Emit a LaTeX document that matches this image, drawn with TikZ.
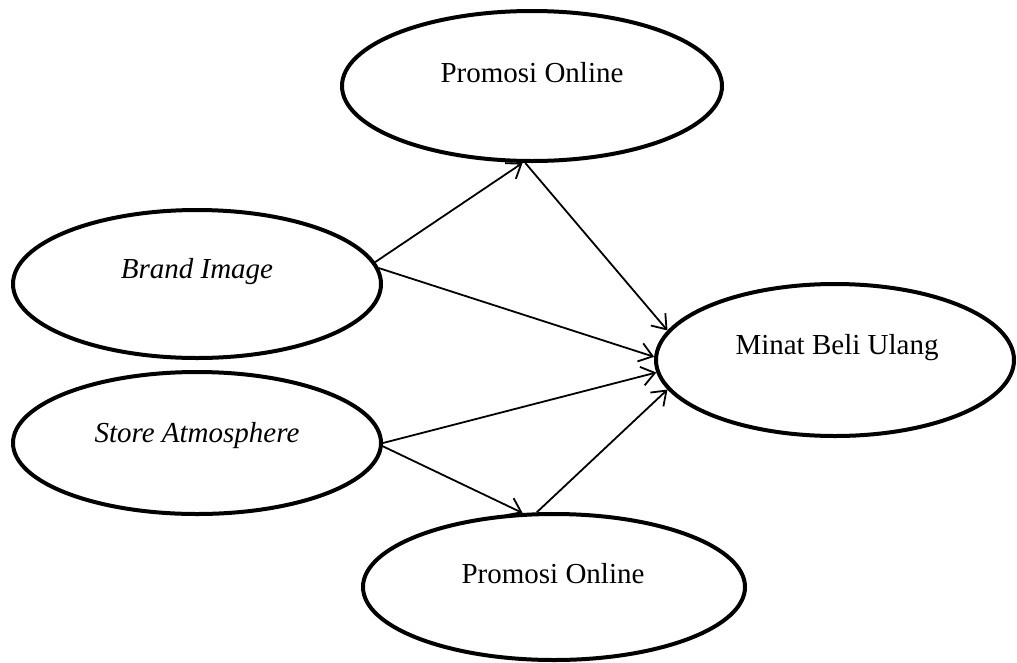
\documentclass[tikz,border=0pt]{standalone}
\usepackage{fontspec}
\setmainfont{Liberation Serif}
\usetikzlibrary{shapes.geometric,arrows.meta}
\tikzset{
  oval/.style={draw=black, line width=4pt, ellipse, inner sep=0pt},
  lbl/.style={anchor=base, inner sep=0pt, font=\fontsize{29}{34}\selectfont},
  conn/.style={line width=1.8pt, -{Straight Barb[length=13pt,width=19pt,line width=1.8pt]}}
}
\begin{document}
\begin{tikzpicture}[x=1pt,y=-1pt]
\useasboundingbox (0,0) rectangle (1017,662);
% ellipses
\node[oval, minimum width=380pt, minimum height=150pt] (po1) at (532,86) {};
\node[oval, minimum width=368pt, minimum height=148pt] (bi) at (197,284) {};
\node[oval, minimum width=368pt, minimum height=142pt] (sa) at (197,443) {};
\node[oval, minimum width=358pt, minimum height=152pt] (mb) at (835,360) {};
\node[oval, minimum width=382pt, minimum height=146pt] (po2) at (554,587) {};
% labels
\node[lbl] (po1t) at (532,82) {Promosi Online};
\node[lbl] (bit) at (197,278) {\itshape Brand Image};
\node[lbl] (sat) at (197,442) {\itshape Store Atmosphere};
\node[lbl] (mbt) at (837,354) {Minat Beli Ulang};
\node[lbl] (po2t) at (553,583) {Promosi Online};
% connectors
\draw[conn] (bi.7) -- (po1.263);
\draw[conn] (po1.265) -- (mb.170);
\draw[conn] (bi.5) -- (mb.179);
\draw[conn] (sa.0) -- (mb.184);
\draw[conn] (sa.-1) -- (po2.113);
\draw[conn] (po2.103) -- (mb.190);
\end{tikzpicture}
\end{document}
